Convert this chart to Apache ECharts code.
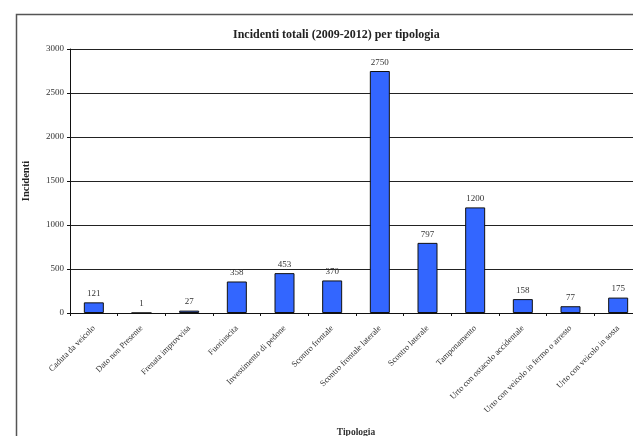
<!DOCTYPE html>
<html>
<head>
<meta charset="utf-8">
<script src="https://cdn.jsdelivr.net/npm/echarts@6/dist/echarts.min.js"></script>
<style>
html,body{margin:0;padding:0;background:#fff;}
#c{width:633px;height:436px;}
</style>
</head>
<body>
<div id="c"></div>
<script>
const categories = [
  "Caduta da veicolo",
  "Dato non Presente",
  "Frenata improvvisa",
  "Fuoriuscita",
  "Investimento di pedone",
  "Scontro frontale",
  "Scontro frontale laterale",
  "Scontro laterale",
  "Tamponamento",
  "Urto con ostacolo accidentale",
  "Urto con veicolo in fermo o arresto",
  "Urto con veicolo in sosta"
];
const values = [121, 1, 27, 358, 453, 370, 2750, 797, 1200, 158, 77, 175];
const yTicks = [0, 500, 1000, 1500, 2000, 2500, 3000];

const FONT = '"Liberation Serif", "DejaVu Serif", serif';
const chart = echarts.init(document.getElementById('c'), null, {renderer: 'canvas'});
chart.setOption({
  animation: false,
  backgroundColor: '#fff',
  title: {
    text: 'Incidenti totali (2009-2012) per tipologia',
    left: 228, top: 24,
    textStyle: {fontFamily: FONT, fontSize: 12, fontWeight: 'bold', color: '#222'}
  },
  graphic: [{
    type: 'rect', left: 14, top: 12, z: 0,
    shape: {width: 700, height: 500},
    style: {fill: 'none', stroke: '#555', lineWidth: 1.5}
  }],
  grid: {left: 70, top: 49, width: 572, height: 264, containLabel: false, outerBoundsMode: 'none'},
  xAxis: {
    type: 'category',
    data: categories,
    name: 'Tipologia',
    nameLocation: 'middle',
    nameGap: 115,
    nameTextStyle: {fontFamily: FONT, fontSize: 9.5, fontWeight: 'bold', color: '#333'},
    axisLine: {lineStyle: {color: '#111', width: 1}},
    axisTick: {show: true, inside: false, length: 3, lineStyle: {color: '#111'}},
    axisLabel: {rotate: 45, margin: 14, fontFamily: FONT, fontSize: 8.5, color: '#333', interval: 0}
  },
  yAxis: {
    type: 'value',
    min: 0, max: 3000, interval: 500,
    name: 'Incidenti',
    nameLocation: 'middle',
    nameGap: 38,
    nameTextStyle: {fontFamily: FONT, fontSize: 10.5, fontWeight: 'bold', color: '#222'},
    axisLine: {show: true, lineStyle: {color: '#111', width: 1}},
    axisTick: {show: true, inside: false, length: 3, lineStyle: {color: '#111'}},
    axisLabel: {margin: 6, fontFamily: FONT, fontSize: 9, color: '#333',
      formatter: v => yTicks.includes(v) ? String(v) : ''},
    splitLine: {show: true, lineStyle: {color: '#222', width: 1}}
  },
  series: [{
    type: 'bar',
    data: values,
    barWidth: 20,
    itemStyle: {color: '#3366FF', borderColor: '#111', borderWidth: 1},
    label: {show: true, position: 'top', distance: 4, fontFamily: FONT, fontSize: 9, color: '#333'}
  }]
});
</script>
</body>
</html>
